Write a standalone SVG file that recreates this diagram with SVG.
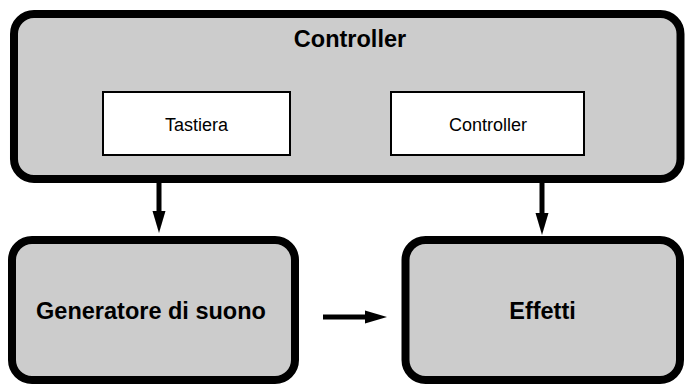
<svg xmlns="http://www.w3.org/2000/svg" width="685" height="385" viewBox="0 0 685 385">
  <style>
    .block { fill: #cccccc; stroke: #000000; stroke-width: 8; }
    .inner { fill: #ffffff; stroke: #000000; stroke-width: 2; }
    .title { font-family: "Liberation Sans", Arial, sans-serif; font-weight: bold; font-size: 23.5px; fill: #000000; text-anchor: middle; }
    .label { font-family: "Liberation Sans", Arial, sans-serif; font-size: 18px; fill: #000000; text-anchor: middle; }
    .wire { fill: none; stroke: #000000; stroke-width: 5; marker-end: url(#head); }
  </style>
  <defs>
    <marker id="head" markerUnits="userSpaceOnUse" markerWidth="22" markerHeight="14" refX="2" refY="7" orient="auto">
      <path d="M0,0.5 L22,7 L0,13.5 Z" fill="#000000"/>
    </marker>
  </defs>

  <rect width="685" height="385" fill="#ffffff"/>

  <!-- Controller block with its two inputs -->
  <g id="controller">
    <rect class="block" x="14" y="14" width="666.5" height="165" rx="20" ry="20"/>
    <text class="title" x="350" y="47">Controller</text>
  </g>
  <g id="tastiera">
    <rect class="inner" x="103" y="92" width="187" height="63"/>
    <text class="label" x="196.5" y="131">Tastiera</text>
  </g>
  <g id="controller-input">
    <rect class="inner" x="391" y="92" width="193" height="63"/>
    <text class="label" x="488" y="131">Controller</text>
  </g>

  <!-- Sound generator -->
  <g id="generatore">
    <rect class="block" x="12" y="240" width="283" height="140" rx="20" ry="20"/>
    <text class="title" x="151" y="319">Generatore di suono</text>
  </g>

  <!-- Effects -->
  <g id="effetti">
    <rect class="block" x="405.5" y="240" width="274.5" height="140" rx="20" ry="20"/>
    <text class="title" x="542.5" y="319">Effetti</text>
  </g>

  <!-- Connectors -->
  <g id="connectors">
    <path class="wire" d="M159,183 V213"/>
    <path class="wire" d="M542,183 V215"/>
    <path class="wire" d="M323,317 H367"/>
  </g>
</svg>
